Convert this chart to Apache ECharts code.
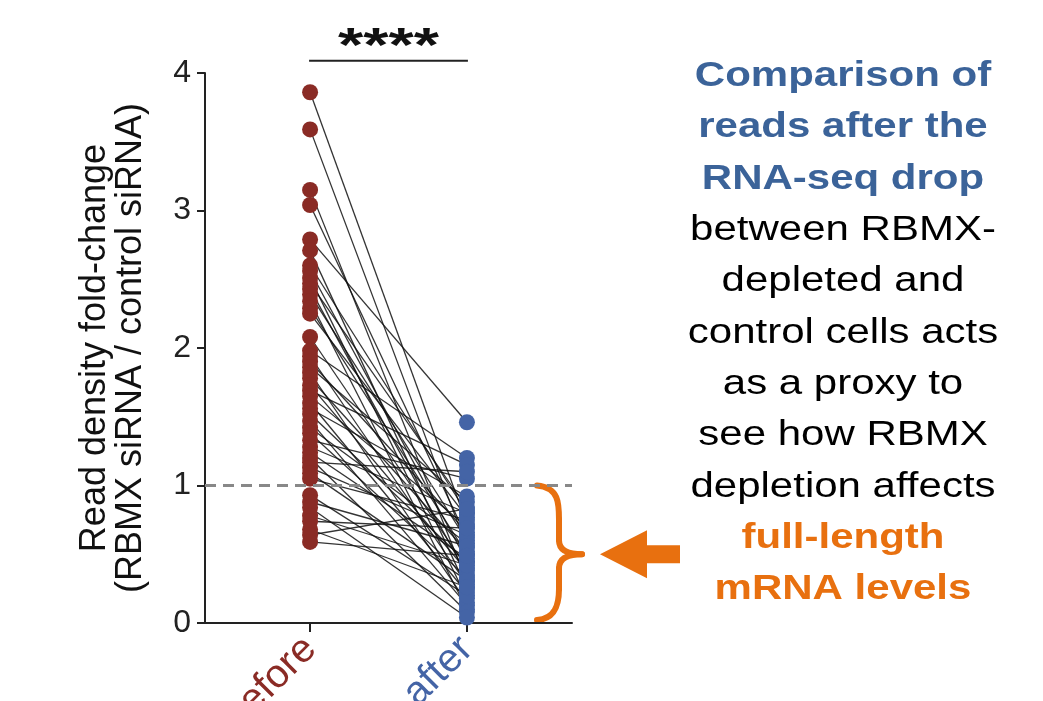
<!DOCTYPE html>
<html>
<head>
<meta charset="utf-8">
<script src="https://cdn.jsdelivr.net/npm/echarts@6/dist/echarts.min.js"></script>
<style>
  html, body { margin: 0; padding: 0; background: #fff; }
  #chart { width: 1043px; height: 701px; }
</style>
</head>
<body>
<div id="chart"></div>
<script>
// groups on the x axis (0 = before, 1 = after)
var categories = ['before', 'after'];
// paired read density fold-change, same index = same gene
var beforeVals = [3.86, 3.59, 3.15, 3.04, 2.79, 2.71, 2.60, 2.56, 2.51, 2.47, 2.43, 2.39, 2.34, 2.29, 2.25,
    2.08, 1.98, 1.94, 1.90, 1.86, 1.82, 1.78, 1.73, 1.69, 1.65, 1.60, 1.56, 1.52, 1.47, 1.42,
    1.38, 1.33, 1.28, 1.24, 1.20, 1.17, 1.13, 1.09, 1.05, 0.93, 0.88, 0.84, 0.78, 0.74, 0.68, 0.64, 0.59];
var afterVals = [0.72, 0.55, 0.30, 0.62, 1.46, 0.25, 0.80, 0.45, 0.18, 0.84, 0.35, 0.60, 0.10, 0.50, 0.77,
    0.40, 1.20, 0.28, 0.66, 0.88, 0.15, 0.52, 0.38, 1.15, 0.70, 0.22, 0.92, 0.44, 0.13, 0.58,
    0.33, 1.05, 0.80, 0.47, 0.08, 1.10, 0.64, 0.31, 0.75, 0.20, 0.56, 0.04, 0.42, 0.69, 0.26, 0.83, 0.49];
var yTicks = [0, 1, 2, 3, 4];
var refLine = 1;

var colBefore = '#8a2b25';
var colAfter = '#4464a6';
var colOrange = '#e8700f';
var colBlue = '#3b6399';

var beforePts = beforeVals.map(function (v) { return [0, v]; });
var afterPts = afterVals.map(function (v) { return [1, v]; });
var pairs = beforeVals.map(function (v, i) {
    return { coords: [[0, v], [1, afterVals[i]]] };
});

var myChart = echarts.init(document.getElementById('chart'));
var option = {
    animation: false,
    grid: { left: 205, top: 73, width: 367, height: 550, containLabel: false, outerBoundsMode: 'none' },
    xAxis: {
        type: 'value',
        min: -0.67,
        max: 1.67,
        splitLine: { show: false },
        axisLine: { onZero: false, lineStyle: { color: '#222', width: 2 } },
        axisTick: { customValues: [0, 1], length: 9, lineStyle: { color: '#222', width: 2 } },
        axisLabel: {
            customValues: [0, 1],
            rotate: 45,
            margin: 20,
            fontFamily: 'Liberation Sans',
            fontSize: 40,
            formatter: function (v) {
                return v === 0 ? '{b|' + categories[0] + '}' : '{a|' + categories[1] + '}';
            },
            rich: {
                b: { color: colBefore, fontSize: 40, fontFamily: 'Liberation Sans' },
                a: { color: colAfter, fontSize: 40, fontFamily: 'Liberation Sans' }
            }
        }
    },
    yAxis: {
        type: 'value',
        min: 0,
        max: 4,
        interval: 1,
        name: 'Read density fold-change\n(RBMX siRNA / control siRNA)',
        nameLocation: 'middle',
        nameGap: 56,
        nameTextStyle: { color: '#111', fontSize: 36, lineHeight: 36, fontFamily: 'Liberation Sans' },
        splitLine: { show: false },
        axisLine: { show: true, onZero: false, lineStyle: { color: '#222', width: 2 } },
        axisTick: { show: true, length: 8, lineStyle: { color: '#222', width: 2 } },
        axisLabel: {
            color: '#222',
            fontSize: 32,
            margin: 14,
            fontFamily: 'Liberation Sans',
            formatter: function (v) { return yTicks.indexOf(v) >= 0 ? String(v) : ''; }
        }
    },
    series: [
        {
            type: 'lines',
            coordinateSystem: 'cartesian2d',
            data: pairs,
            silent: true,
            lineStyle: { color: '#111', width: 1.3, opacity: 0.85 },
            z: 2
        },
        {
            type: 'scatter',
            data: beforePts,
            symbolSize: 16,
            itemStyle: { color: colBefore, opacity: 1 },
            z: 3,
            markLine: {
                silent: true,
                symbol: 'none',
                label: { show: false },
                lineStyle: { color: '#888', width: 3, type: [11, 7] },
                data: [{ yAxis: refLine }]
            }
        },
        {
            type: 'scatter',
            data: afterPts,
            symbolSize: 16,
            itemStyle: { color: colAfter, opacity: 1 },
            z: 3
        }
    ]
};
myChart.setOption(option);

// annotations placed from the axes
var p0 = myChart.convertToPixel({ gridIndex: 0 }, [0, 0]);
var p1 = myChart.convertToPixel({ gridIndex: 0 }, [1, 1]);
var pTop = myChart.convertToPixel({ gridIndex: 0 }, [0, 4.09]);
var yMid = (p0[1] + p1[1]) / 2;
var bx = 537;
var bx2 = bx + 22;
var braceStyle = { stroke: colOrange, lineWidth: 6, fill: null, lineCap: 'round' };

myChart.setOption({
    graphic: [
        {
            type: 'line',
            shape: { x1: p0[0] - 1, y1: pTop[1], x2: p1[0] + 1, y2: pTop[1] },
            style: { stroke: '#222', lineWidth: 2 }
        },
        {
            type: 'text',
            x: (p0[0] + p1[0]) / 2,
            y: pTop[1] - 13,
            scaleX: 1.35,
            style: {
                text: '****',
                font: 'bold 48px "Liberation Sans"',
                fill: '#111',
                align: 'center',
                verticalAlign: 'middle'
            }
        },
        // curly brace, top half
        {
            type: 'bezierCurve',
            shape: { x1: bx, y1: p1[1], cpx1: bx2, cpy1: p1[1] + 2, cpx2: bx2, cpy2: p1[1] + 18, x2: bx2, y2: p1[1] + 34 },
            style: braceStyle
        },
        {
            type: 'line',
            shape: { x1: bx2, y1: p1[1] + 34, x2: bx2, y2: yMid - 14 },
            style: braceStyle
        },
        {
            type: 'bezierCurve',
            shape: { x1: bx2, y1: yMid - 14, cpx1: bx2, cpy1: yMid - 3, cpx2: bx2 + 10, cpy2: yMid, x2: bx + 45, y2: yMid },
            style: braceStyle
        },
        // curly brace, bottom half
        {
            type: 'bezierCurve',
            shape: { x1: bx + 45, y1: yMid, cpx1: bx2 + 10, cpy1: yMid, cpx2: bx2, cpy2: yMid + 3, x2: bx2, y2: yMid + 14 },
            style: braceStyle
        },
        {
            type: 'line',
            shape: { x1: bx2, y1: yMid + 14, x2: bx2, y2: p0[1] - 34 },
            style: braceStyle
        },
        {
            type: 'bezierCurve',
            shape: { x1: bx2, y1: p0[1] - 34, cpx1: bx2, cpy1: p0[1] - 18, cpx2: bx2 - 4, cpy2: p0[1] - 4, x2: bx, y2: p0[1] - 3 },
            style: braceStyle
        },
        {
            type: 'polygon',
            shape: {
                points: [[600, yMid], [647, yMid - 24], [647, yMid - 9], [680, yMid - 9],
                    [680, yMid + 9], [647, yMid + 9], [647, yMid + 24]]
            },
            style: { fill: colOrange }
        },
        {
            type: 'text',
            x: 843,
            y: 333,
            scaleX: 1.2,
            style: {
                text: '{b|Comparison of}\n{b|reads after the}\n{b|RNA-seq drop}\n' +
                    '{k|between RBMX-}\n{k|depleted and}\n{k|control cells acts}\n{k|as a proxy to}\n' +
                    '{k|see how RBMX}\n{k|depletion affects}\n{o|full-length}\n{o|mRNA levels}',
                align: 'center',
                verticalAlign: 'middle',
                rich: {
                    b: { fill: colBlue, font: 'bold 35px "Liberation Sans"', lineHeight: 51.3, align: 'center' },
                    k: { fill: '#000', font: '35px "Liberation Sans"', lineHeight: 51.3, align: 'center' },
                    o: { fill: colOrange, font: 'bold 35px "Liberation Sans"', lineHeight: 51.3, align: 'center' }
                }
            }
        }
    ]
});
</script>
</body>
</html>
